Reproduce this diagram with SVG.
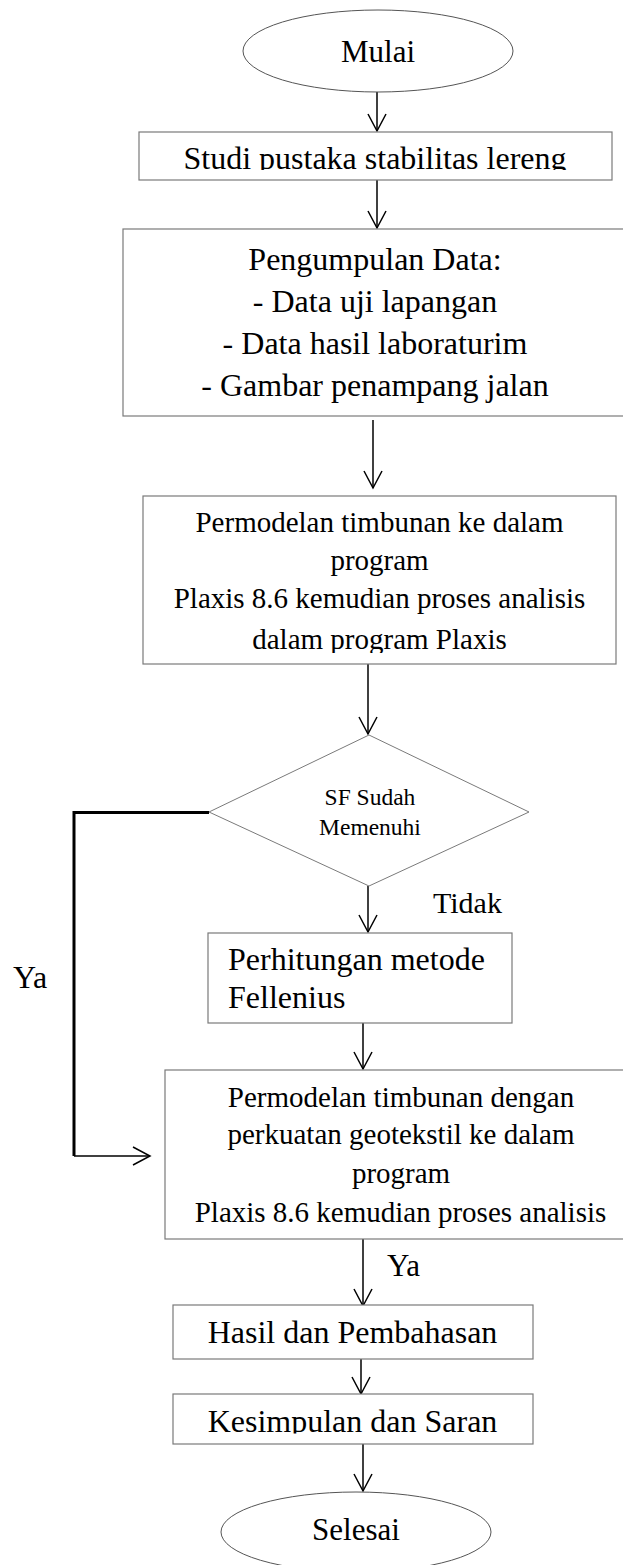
<svg xmlns="http://www.w3.org/2000/svg" width="623" height="1565" viewBox="0 0 623 1565">
<style>
  .box { fill: #ffffff; stroke: #7a7a7a; stroke-width: 1.2; }
  .term { fill: #ffffff; stroke: #555555; stroke-width: 1; }
  .t { font-family: "Liberation Serif", "Times New Roman", serif; fill: #000000; }
  .c { text-anchor: middle; }
  .conn { stroke: #000000; stroke-width: 1.5; fill: none; }
  .thick { stroke: #000000; stroke-width: 3; fill: none; }
</style>
<defs>
  <marker id="arr" viewBox="0 0 20 20" refX="18" refY="10" markerWidth="20" markerHeight="20" markerUnits="userSpaceOnUse" orient="auto">
    <path d="M1,1 L18,10 L1,19" fill="none" stroke="#000000" stroke-width="1.5"/>
  </marker>
  <clipPath id="clipStudi"><rect x="139" y="132" width="473" height="38"/></clipPath>
  <clipPath id="clipPerm1"><rect x="143" y="496" width="473" height="157"/></clipPath>
  <clipPath id="clipKes"><rect x="173" y="1394" width="360" height="39.5"/></clipPath>
</defs>
<rect width="623" height="1565" fill="#ffffff"/>

<g id="connectors">
  <line class="conn" x1="377" y1="92" x2="377" y2="131" marker-end="url(#arr)"/>
  <line class="conn" x1="377" y1="180" x2="377" y2="228" marker-end="url(#arr)"/>
  <line class="conn" x1="373" y1="420" x2="373" y2="488" marker-end="url(#arr)"/>
  <line class="conn" x1="368" y1="664" x2="368" y2="734" marker-end="url(#arr)"/>
  <line class="conn" x1="368" y1="886" x2="368" y2="932" marker-end="url(#arr)"/>
  <line class="conn" x1="363" y1="1023" x2="363" y2="1069" marker-end="url(#arr)"/>
  <polyline class="thick" points="209,812.5 74,812.5 74,1156"/>
  <line class="conn" x1="74" y1="1156" x2="150" y2="1156" marker-end="url(#arr)"/>
  <line class="conn" x1="363" y1="1239" x2="363" y2="1306" marker-end="url(#arr)"/>
  <line class="conn" x1="361" y1="1359" x2="361" y2="1394" marker-end="url(#arr)"/>
  <line class="conn" x1="363" y1="1444" x2="363" y2="1491" marker-end="url(#arr)"/>
  <text class="t" x="433" y="913" font-size="30">Tidak</text>
  <text class="t" x="13" y="988" font-size="32">Ya</text>
  <text class="t" x="387" y="1276" font-size="31">Ya</text>
</g>

<g id="mulai">
  <ellipse class="term" cx="378" cy="51" rx="135" ry="41"/>
  <text class="t c" x="378" y="62" font-size="31">Mulai</text>
</g>

<g id="studi">
  <rect class="box" x="139" y="132" width="473" height="48"/>
  <text class="t c" x="375" y="169" font-size="32" clip-path="url(#clipStudi)">Studi pustaka stabilitas lereng</text>
</g>

<g id="pengumpulan">
  <rect class="box" x="123" y="229" width="520" height="187"/>
  <text class="t c" x="375" y="270" font-size="32">Pengumpulan Data:</text>
  <text class="t c" x="375" y="312" font-size="32">- Data uji lapangan</text>
  <text class="t c" x="375" y="354" font-size="32">- Data hasil laboraturim</text>
  <text class="t c" x="375" y="396" font-size="32">- Gambar penampang jalan</text>
</g>

<g id="permodelan1">
  <rect class="box" x="143" y="496" width="473" height="168"/>
  <text class="t c" x="379.5" y="532" font-size="29">Permodelan timbunan ke dalam</text>
  <text class="t c" x="379.5" y="570" font-size="29">program</text>
  <text class="t c" x="379.5" y="608" font-size="29">Plaxis 8.6 kemudian proses analisis</text>
  <text class="t c" x="379.5" y="649" font-size="29" clip-path="url(#clipPerm1)">dalam program Plaxis</text>
</g>

<g id="keputusan">
  <polygon points="369,735 529,812 369,886 209,812" fill="#ffffff" stroke="#7a7a7a" stroke-width="1"/>
  <text class="t c" x="370" y="805" font-size="23.5">SF Sudah</text>
  <text class="t c" x="370" y="835" font-size="23.5">Memenuhi</text>
</g>

<g id="perhitungan">
  <rect class="box" x="208" y="933" width="304" height="90"/>
  <text class="t" x="228" y="970" font-size="32">Perhitungan metode</text>
  <text class="t" x="228" y="1008" font-size="32">Fellenius</text>
</g>

<g id="permodelan2">
  <rect class="box" x="165" y="1070" width="480" height="169"/>
  <text class="t c" x="401" y="1107" font-size="29">Permodelan timbunan dengan</text>
  <text class="t c" x="401" y="1144" font-size="29">perkuatan geotekstil ke dalam</text>
  <text class="t c" x="401" y="1183" font-size="29">program</text>
  <text class="t c" x="400.5" y="1222" font-size="29">Plaxis 8.6 kemudian proses analisis</text>
</g>

<g id="hasil">
  <rect class="box" x="173" y="1305" width="360" height="54"/>
  <text class="t c" x="352.5" y="1343" font-size="32">Hasil dan Pembahasan</text>
</g>

<g id="kesimpulan">
  <rect class="box" x="173" y="1394" width="360" height="50"/>
  <text class="t c" x="352.5" y="1432" font-size="32" clip-path="url(#clipKes)">Kesimpulan dan Saran</text>
</g>

<g id="selesai">
  <ellipse class="term" cx="356" cy="1532" rx="135" ry="40"/>
  <text class="t c" x="356" y="1540" font-size="31">Selesai</text>
</g>
</svg>
